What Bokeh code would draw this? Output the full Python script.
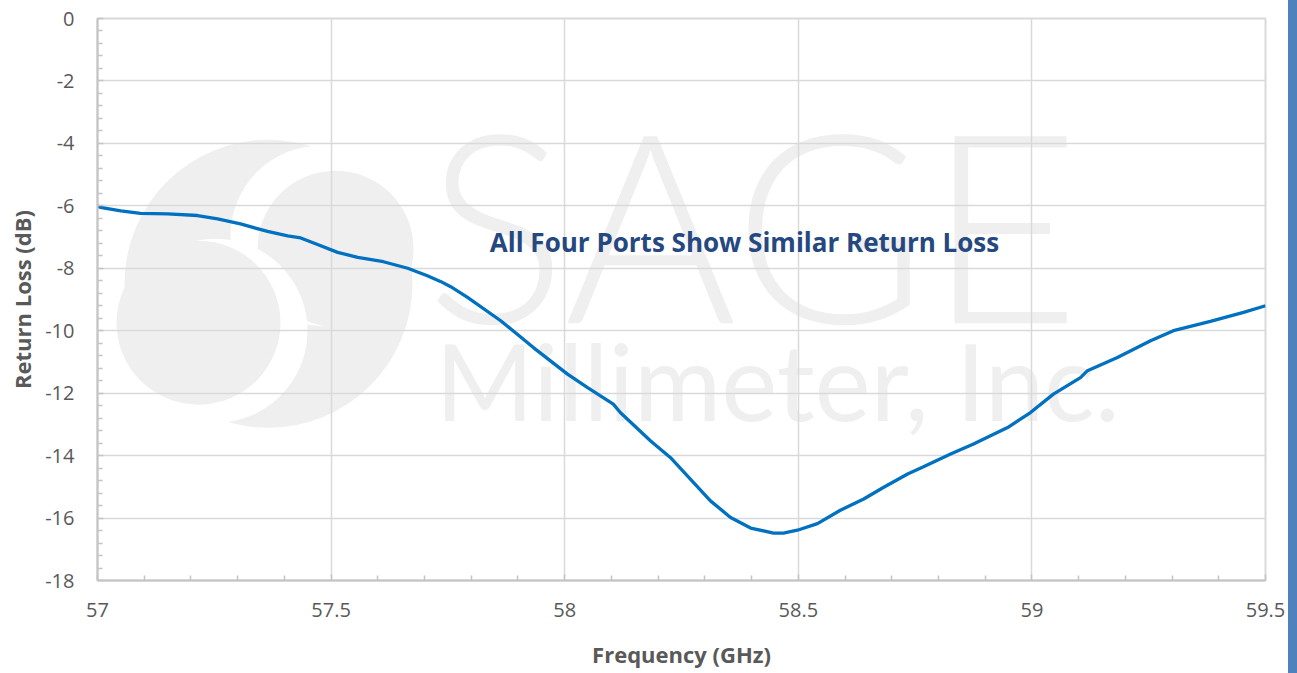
import numpy as np
from bokeh.plotting import figure
from bokeh.layouts import row
from bokeh.models import FixedTicker, Label, Range1d, Div
from bokeh.core.properties import value
from bokeh.embed import file_html
from bokeh.resources import INLINE

# ---------------- data ----------------
freq = [57.000, 57.006, 57.050, 57.092, 57.150, 57.214, 57.257, 57.306, 57.364,
        57.407, 57.435, 57.471, 57.514, 57.557, 57.612, 57.664, 57.706, 57.734,
        57.756, 57.792, 57.863, 57.933, 58.006, 58.049, 58.104, 58.119, 58.184,
        58.226, 58.269, 58.312, 58.355, 58.398, 58.447, 58.468, 58.498, 58.541,
        58.590, 58.640, 58.682, 58.734, 58.768, 58.826, 58.875, 58.948, 58.997,
        59.046, 59.104, 59.119, 59.183, 59.254, 59.303, 59.382, 59.453, 59.500]
return_loss = [-6.00, -6.05, -6.16, -6.24, -6.26, -6.31, -6.42, -6.58, -6.82,
               -6.96, -7.03, -7.24, -7.49, -7.65, -7.79, -8.00, -8.24, -8.42,
               -8.59, -8.93, -9.68, -10.54, -11.39, -11.82, -12.35, -12.62, -13.53,
               -14.06, -14.75, -15.45, -15.98, -16.32, -16.48, -16.48, -16.39, -16.18,
               -15.75, -15.39, -15.02, -14.59, -14.36, -13.95, -13.63, -13.10, -12.62,
               -12.03, -11.50, -11.28, -10.86, -10.32, -10.00, -9.70, -9.41, -9.20]

x_ticks = [57.0, 57.5, 58.0, 58.5, 59.0, 59.5]
x_tick_labels = ["57", "57.5", "58", "58.5", "59", "59.5"]
x_minor_ticks = [57.1, 57.2, 57.3, 57.4, 57.6, 57.7, 57.8, 57.9, 58.1, 58.2, 58.3,
                 58.4, 58.6, 58.7, 58.8, 58.9, 59.1, 59.2, 59.3, 59.4]
y_ticks = [-18, -16, -14, -12, -10, -8, -6, -4, -2, 0]
y_tick_labels = ["-18", "-16", "-14", "-12", "-10", "-8", "-6", "-4", "-2", "0"]
y_minor_ticks = [-17.6, -17.2, -16.8, -16.4, -15.6, -15.2, -14.8, -14.4, -13.6,
                 -13.2, -12.8, -12.4, -11.6, -11.2, -10.8, -10.4, -9.6, -9.2,
                 -8.8, -8.4, -7.6, -7.2, -6.8, -6.4, -5.6, -5.2, -4.8, -4.4,
                 -3.6, -3.2, -2.8, -2.4, -1.6, -1.2, -0.8, -0.4]

annotation_text = "All Four Ports Show Similar Return Loss"
x_label = "Frequency (GHz)"
y_label = "Return Loss (dB)"
wm_word1 = "SAGE"
wm_word2 = "Millimeter, Inc."

FONT = "Open Sans"
GRID = "#d9d9d9"
AXIS = "#c4c4c4"
WM = "#efefef"

p = figure(width=1288, height=673,
           x_range=Range1d(57, 59.5), y_range=Range1d(-18, 0),
           output_backend="svg", toolbar_location=None,
           min_border_left=97, min_border_right=23,
           min_border_top=18, min_border_bottom=93,
           background_fill_color="white", border_fill_color="white")

p.outline_line_color = GRID
p.outline_line_width = 2

# ---------------- watermark (drawn under the grid) ----------------
def px_x(px):
    return 57 + (px - 97) / 467.2

def px_y(py):
    return -(py - 18) / 31.2

logo = [((268, 283), 288, WM), ((320, 235), 180, "white"), ((335, 248), 156, WM),
        ((215, 330), 184, "white"), ((198, 322), 164, WM)]
for (cx, cy), d, col in logo:
    p.scatter(x=[px_x(cx)], y=[px_y(cy)], size=d, marker="circle",
              fill_color=col, line_color=None, level="image")

p.text(x=[px_x(425)], y=[px_y(220)], text=[wm_word1],
       text_font=value("Lato Light, Lato"), text_font_size="264px", text_color=WM,
       text_baseline="middle", text_align="left", level="image")
p.text(x=[px_x(435)], y=[px_y(379)], text=[wm_word2],
       text_font=value("Lato"), text_font_size="106px", text_color=WM,
       text_baseline="middle", text_align="left", level="image")

# ---------------- grid & axes ----------------
p.xgrid.grid_line_color = GRID
p.ygrid.grid_line_color = GRID
p.xgrid.grid_line_width = 1.5
p.ygrid.grid_line_width = 1.5

p.xaxis.ticker = FixedTicker(ticks=x_ticks, minor_ticks=x_minor_ticks)
p.yaxis.ticker = FixedTicker(ticks=y_ticks, minor_ticks=y_minor_ticks)
p.xaxis.major_label_overrides = {t: l for t, l in zip(x_ticks, x_tick_labels)}
p.yaxis.major_label_overrides = {t: l for t, l in zip(y_ticks, y_tick_labels)}

for ax in (p.xaxis, p.yaxis):
    ax.axis_line_color = AXIS
    ax.axis_line_width = 2
    ax.major_tick_line_color = AXIS
    ax.minor_tick_line_color = AXIS
    ax.major_tick_line_width = 1.5
    ax.minor_tick_line_width = 1.5
    ax.major_tick_in = 6
    ax.major_tick_out = 0
    ax.minor_tick_in = 5
    ax.minor_tick_out = 0
    ax.major_label_text_font = FONT
    ax.major_label_text_font_size = "20px"
    ax.major_label_text_color = "#595959"
    ax.axis_label_text_font = FONT
    ax.axis_label_text_font_style = "bold"
    ax.axis_label_text_font_size = "22px"
    ax.axis_label_text_color = "#595959"
p.xaxis.major_label_standoff = 22
p.yaxis.major_label_standoff = 23
p.xaxis.axis_label = x_label
p.yaxis.axis_label = y_label
p.xaxis.axis_label_standoff = 19
p.yaxis.axis_label_standoff = 5

# ---------------- curve ----------------
p.line(freq, return_loss, line_color="#0070C0", line_width=3.3)

# ---------------- annotation text ----------------
p.add_layout(Label(x=px_x(744), y=px_y(241), text=annotation_text,
                   text_align="center", text_baseline="middle",
                   text_font=FONT, text_font_style="bold",
                   text_font_size="26px", text_color="#24487f"))

# ---------------- right-hand blue bar ----------------
bar = Div(width=9, height=673, margin=0,
          styles={"background-color": "#4F81BD"})

layout = row(p, bar, spacing=0)
open("out.html", "w").write(file_html(layout, INLINE))
